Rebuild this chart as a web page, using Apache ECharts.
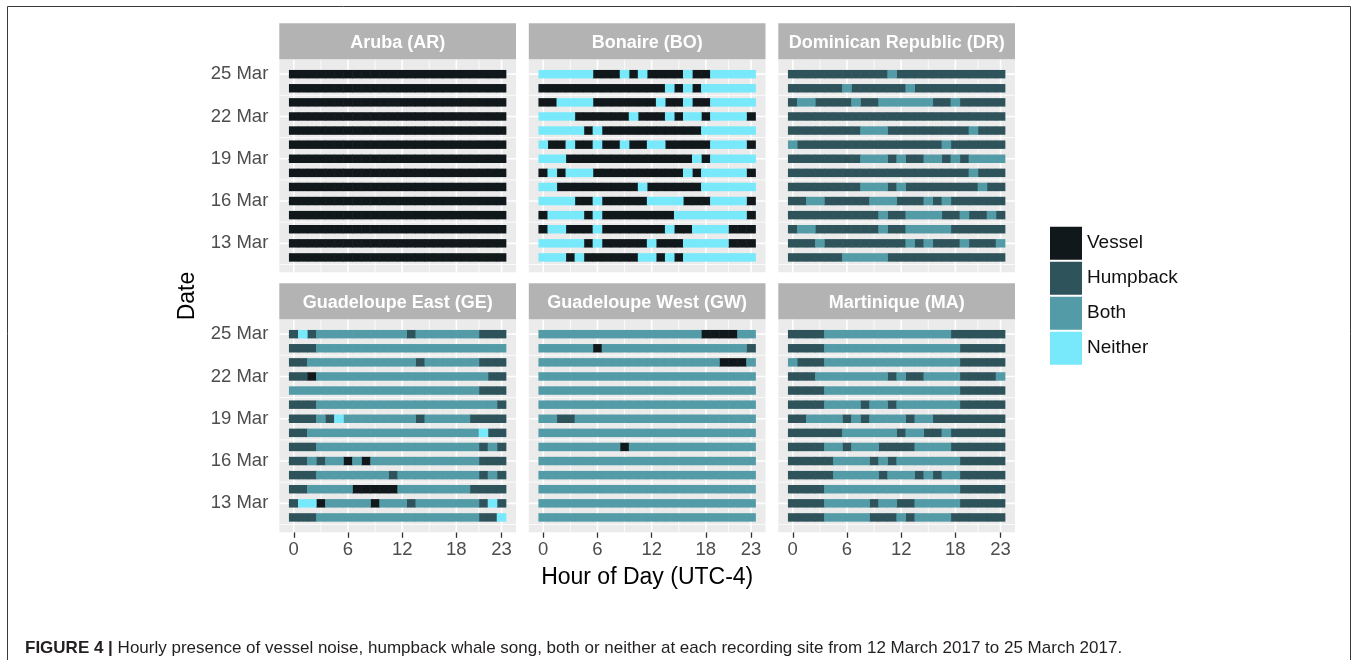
<!DOCTYPE html>
<html>
<head>
<meta charset="utf-8">
<script src="https://cdn.jsdelivr.net/npm/echarts@6/dist/echarts.min.js"></script>
<style>
  html, body { margin: 0; padding: 0; background: #fff; }
  #main { width: 1357px; height: 660px; }
</style>
</head>
<body>
<div id="main"></div>
<script>
// categories and their one-letter codes used in the rows below
const categories = ['Vessel', 'Humpback', 'Both', 'Neither'];
const codes = ['V', 'H', 'B', 'N'];
const colors = ['#11181b', '#2e535b', '#529ba7', '#77e9fb'];

// one row per day, top row = 25 Mar, character index = hour 0..23
const days = [25, 24, 23, 22, 21, 20, 19, 18, 17, 16, 15, 14, 13, 12];
const xTicks = [0, 6, 12, 18, 23];
const xMinor = [3, 9, 15, 20.5];
const yTicks = [13, 16, 19, 22, 25];
const yMinor = [11.5, 14.5, 17.5, 20.5, 23.5];

const siteNames = ['Aruba (AR)', 'Bonaire (BO)', 'Dominican Republic (DR)',
  'Guadeloupe East (GE)', 'Guadeloupe West (GW)', 'Martinique (MA)'];

const aruba = [
  'VVVVVVVVVVVVVVVVVVVVVVVV',
  'VVVVVVVVVVVVVVVVVVVVVVVV',
  'VVVVVVVVVVVVVVVVVVVVVVVV',
  'VVVVVVVVVVVVVVVVVVVVVVVV',
  'VVVVVVVVVVVVVVVVVVVVVVVV',
  'VVVVVVVVVVVVVVVVVVVVVVVV',
  'VVVVVVVVVVVVVVVVVVVVVVVV',
  'VVVVVVVVVVVVVVVVVVVVVVVV',
  'VVVVVVVVVVVVVVVVVVVVVVVV',
  'VVVVVVVVVVVVVVVVVVVVVVVV',
  'VVVVVVVVVVVVVVVVVVVVVVVV',
  'VVVVVVVVVVVVVVVVVVVVVVVV',
  'VVVVVVVVVVVVVVVVVVVVVVVV',
  'VVVVVVVVVVVVVVVVVVVVVVVV'
];
const bonaire = [
  'NNNNNNVVVNVNVVVVNVVNNNNN',
  'VVVVVVVVVVVVVVNVNVNNNNNN',
  'VVNNNNVVVVVVVNVVNVVNNNNN',
  'NNNNVVVVVVNVVVNVNNVNNNNV',
  'NNNNNVNVVVVVVVVVVVNNNNNN',
  'NVVNVVNVVNVVNNVVVVVNNNNV',
  'NNNVVVVVVVVVVVVVVNVNNNNN',
  'VNVNNNVVVVVVVVVVNVNNNNNV',
  'NNVVVVVVVVVNVVVVVVNNNNNN',
  'NNNNVVNVVVVVNNNNVVVNNNNV',
  'VNNNNVNVVVVVVVVNNNNNNNNV',
  'VNNVVVNVVVVVVVNVVNNNNVVV',
  'NNNNNVNVVVVVNVVVNNNNNVVV',
  'NNNVNVVVVVVNNVNVNNNNNNNN'
];
const dominican = [
  'HHHHHHHHHHHBHHHHHHHHHHHH',
  'HHHHHHBHHHHHHBHHHHHHHHHH',
  'HBBHHHHBHHBBBBBBHHBHHHHH',
  'HHHHHHHHHHHHHHHHHHHHHHHH',
  'HHHHHHHHBBBHHHHHHHHHBHHH',
  'BHHHHHHHHHHHHHHHHBHHHHHH',
  'HHHHHHHHBBBHBHHBBHBHBBBB',
  'HHHHHHHHHHHHHHHHHHHHBHHH',
  'HHHHHHHHBBBHBHHHHHHHHBHH',
  'HHBBHHHHHBBBHHHBHBHHHHHH',
  'HHHHHHHHHHBHHBBBBHHBHHBH',
  'HBBHHHHHHHBHHBBBBBHHHHHH',
  'HHHBHHHHHHHHHBHBHHHBHHHB',
  'HHHHHHBBBBBHHHHHHHHHHHHH'
];
const guadeloupeEast = [
  'HNHBBBBBBBBBBHBBBBBBBHHH',
  'HHHBBBBBBBBBBBBBBBBBBBBB',
  'HHBBBBBBBBBBBBHBBBBBBHHH',
  'HHVBBBBBBBBBBBBBBBBBBBHH',
  'BBBBBBBBBBBBBBBBBBBBBHHH',
  'HHHBBBBBBBBBBBBBBBBBBBBH',
  'HHHBHNBBBBBBBBHBBBBBHHHH',
  'HHBBBBBBBBBBBBBBBBBBBNHH',
  'HHHBBBBBBBBBBBBBBBBBBHBH',
  'HHBHBBVBVBBBBBBBBBBBBHHH',
  'HHHBBBBBBBBHBBBBBBBBBHBH',
  'HHBBBBBVVVVVBBBBBBBBHHHH',
  'HNNVBBBBBVBBBHBBBBBBBHNH',
  'HHHBBBBBBBBBBBBBBBBBBHHN'
];
const guadeloupeWest = [
  'BBBBBBBBBBBBBBBBBBVVVVBB',
  'BBBBBBVBBBBBBBBBBBBBBBBH',
  'BBBBBBBBBBBBBBBBBBBBVVVB',
  'BBBBBBBBBBBBBBBBBBBBBBBB',
  'BBBBBBBBBBBBBBBBBBBBBBBB',
  'BBBBBBBBBBBBBBBBBBBBBBBB',
  'BBHHBBBBBBBBBBBBBBBBBBBB',
  'BBBBBBBBBBBBBBBBBBBBBBBB',
  'BBBBBBBBBVBBBBBBBBBBBBBB',
  'BBBBBBBBBBBBBBBBBBBBBBBB',
  'BBBBBBBBBBBBBBBBBBBBBBBB',
  'BBBBBBBBBBBBBBBBBBBBBBBB',
  'BBBBBBBBBBBBBBBBBBBBBBBB',
  'BBBBBBBBBBBBBBBBBBBBBBBB'
];
const martinique = [
  'HHHHBBBBBBBBBBBBBBHHHHHH',
  'HHHHBBBBBBBBBBBBBBBHHHHH',
  'BHHHBBBBBBBBBBBBBBBHHHHH',
  'HHHBBBBBBBBHBHHBBBBHHHHB',
  'HHHHBBBBBBBBBBBBBBBHHHHH',
  'HHHHBBBBHBBHBBBBBBBHHHHH',
  'HHBBBBHBHBBBBHBBHHHHHHHH',
  'HHHHHHBBBBBBHBBHHBHHHHHH',
  'HHHHBBHBBBHHHHBBBBHHHHHH',
  'HHHHHBBBBHBHBBBBBBBHHHHH',
  'HHHHHBBBBBHBBBHBHBBHHHHH',
  'HHHHBBBBBBBBBBBBBBBHHHHH',
  'HHHHBBBBBHBBHHBBBBBHHHHH',
  'HHHHBBBBBHHHBHBBBBHHHHHH'
];
const siteRows = [aruba, bonaire, dominican, guadeloupeEast, guadeloupeWest, martinique];

const FONT = '"Liberation Sans", Arial, Helvetica, sans-serif';
const panelLeft = [279.3, 528.8, 778.3];
const stripTop = [23.3, 283.3];
const PW = 236.7, PH = 213, SH = 36;

// white panel grid lines: [orientation 0=vertical 1=horizontal, value, major]
const gridLineData = [];
xTicks.forEach(v => gridLineData.push([0, v, 1]));
xMinor.forEach(v => gridLineData.push([0, v, 0]));
yTicks.forEach(v => gridLineData.push([1, v, 1]));
yMinor.forEach(v => gridLineData.push([1, v, 0]));

function gridLine(params, api) {
  const cs = params.coordSys;
  const lw = api.value(2) ? 1.6 : 0.8;
  if (api.value(0) === 0) {
    const px = api.coord([api.value(1), 18])[0];
    return { type: 'line', shape: { x1: px, y1: cs.y, x2: px, y2: cs.y + cs.height },
      style: { stroke: '#ffffff', lineWidth: lw } };
  }
  const py = api.coord([10, api.value(1)])[1];
  return { type: 'line', shape: { x1: cs.x, y1: py, x2: cs.x + cs.width, y2: py },
    style: { stroke: '#ffffff', lineWidth: lw } };
}

function tile(color) {
  return function (params, api) {
    const c = api.coord([api.value(0), api.value(1)]);
    const s = api.size([1, 1]);
    const h = s[1] * 0.6;
    return { type: 'rect',
      shape: { x: c[0] - s[0] / 2 - 0.3, y: c[1] - h / 2, width: s[0] + 0.6, height: h },
      style: { fill: color } };
  };
}

const grids = [], xAxes = [], yAxes = [], series = [], graphics = [];

siteNames.forEach((name, i) => {
  const r = Math.floor(i / 3), c = i % 3;
  const left = panelLeft[c], top = stripTop[r] + SH;
  grids.push({ left: left, top: top, width: PW, height: PH, show: true,
    backgroundColor: '#ebebeb', borderWidth: 0 });
  xAxes.push({
    type: 'value', gridIndex: i, min: -1.6, max: 24.6,
    axisLine: { show: false }, splitLine: { show: false },
    axisTick: { show: r === 1, customValues: xTicks, length: 5.5, lineStyle: { color: '#333', width: 1.3 } },
    axisLabel: { show: r === 1, customValues: xTicks, margin: 8, fontSize: 18.5,
      color: '#4d4d4d', fontFamily: FONT }
  });
  yAxes.push({
    type: 'value', gridIndex: i, min: 10.945, max: 26.055,
    axisLine: { show: false }, splitLine: { show: false },
    axisTick: { show: c === 0, customValues: yTicks, length: 5.5, lineStyle: { color: '#333', width: 1.3 } },
    axisLabel: { show: c === 0, customValues: yTicks, margin: 11, fontSize: 18.5,
      color: '#4d4d4d', fontFamily: FONT, formatter: v => v + ' Mar' }
  });
  series.push({ type: 'custom', xAxisIndex: i, yAxisIndex: i, silent: true, z: 1,
    renderItem: gridLine, data: gridLineData });
  codes.forEach((code, k) => {
    const pts = [];
    siteRows[i].forEach((row, d) => {
      for (let h = 0; h < row.length; h++) {
        if (row[h] === code) pts.push([h, days[d]]);
      }
    });
    series.push({ type: 'custom', name: categories[k], xAxisIndex: i, yAxisIndex: i, z: 2,
      itemStyle: { color: colors[k] }, renderItem: tile(colors[k]), data: pts });
  });
  // facet strip
  graphics.push({ type: 'rect', left: left, top: stripTop[r], z: 10,
    shape: { width: PW, height: SH }, style: { fill: '#b3b3b3' } });
  graphics.push({ type: 'text', x: left + PW / 2, y: stripTop[r] + 19.5, z: 11,
    style: { text: name, fill: '#ffffff', font: 'bold 18px ' + FONT,
      align: 'center', verticalAlign: 'middle' } });
});

// figure frame (open at the bottom, cut by the image edge)
graphics.push({ type: 'polyline', z: 5,
  shape: { points: [[7.5, 670], [7.5, 6.5], [1350.5, 6.5], [1350.5, 670]] },
  style: { stroke: '#3a3a3a', lineWidth: 1, fill: null } });
// axis titles
graphics.push({ type: 'text', x: 647.2, y: 578, z: 11,
  style: { text: 'Hour of Day (UTC-4)', fill: '#000', font: '23px ' + FONT,
    align: 'center', verticalAlign: 'middle' } });
graphics.push({ type: 'text', x: 188, y: 296, rotation: Math.PI / 2, z: 11,
  style: { text: 'Date', fill: '#000', font: '23px ' + FONT,
    align: 'center', verticalAlign: 'middle' } });
// caption
graphics.push({ type: 'text', x: 25, y: 648, z: 11,
  style: {
    text: '{b|FIGURE 4 |} Hourly presence of vessel noise, humpback whale song, both or neither at each recording site from 12 March 2017 to 25 March 2017.',
    fill: '#231f20', font: '17px ' + FONT, verticalAlign: 'middle',
    rich: { b: { font: 'bold 17px ' + FONT, fill: '#231f20' } }
  } });

const chart = echarts.init(document.getElementById('main'));
chart.setOption({
  animation: false,
  backgroundColor: '#ffffff',
  legend: {
    data: categories, orient: 'vertical', left: 1050, top: 226.7, padding: 0,
    itemWidth: 32, itemHeight: 33, itemGap: 2, icon: 'rect', selectedMode: false,
    textStyle: { fontSize: 19, color: '#111', fontFamily: FONT }
  },
  grid: grids,
  xAxis: xAxes,
  yAxis: yAxes,
  series: series,
  graphic: graphics
});
</script>
</body>
</html>
